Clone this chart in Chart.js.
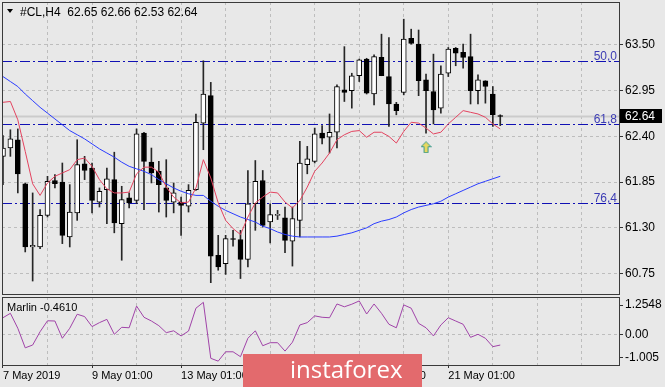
<!DOCTYPE html>
<html>
<head>
<meta charset="utf-8">
<title>#CL,H4</title>
<script src="https://cdn.jsdelivr.net/npm/chart.js@4.4.1/dist/chart.umd.min.js"></script>
<style>
  html, body { margin: 0; padding: 0; background: #e8e8e8; }
  .box { position: relative; width: 665px; height: 387px; overflow: hidden; background: #e8e8e8; }
  canvas { position: absolute; left: 0; }
  #price { top: 0; }
  #osc { top: 296px; }
  .logo { position: absolute; left: 243px; top: 354px; width: 179px; height: 33px; background: #e36a6d;
          color: #fff; font: 24px "Open Sans", sans-serif; line-height: 30px; box-sizing: border-box; padding-left: 47px; }
</style>
</head>
<body>
<div class="box">
  <canvas id="price" width="665" height="296"></canvas>
  <canvas id="osc" width="665" height="91"></canvas>
  <div class="logo">instaforex</div>
</div>
<script>
// candles, H4
var opens = [62.16, 62.26, 62.36, 61.83, 61.07, 61.07, 61.45, 61.87, 61.85, 61.19,
             61.48, 62.07, 62.02, 61.61, 61.76, 61.88, 61.35, 61.66, 61.63, 62.44,
             62.09, 61.98, 61.78, 61.61, 61.61, 61.56, 61.76, 62.56, 62.89, 60.97,
             60.87, 61.17, 61.16, 60.92, 61.59, 61.87, 61.37, 61.45, 61.42, 61.14,
             61.39, 62.06, 62.10, 62.44, 62.39, 62.45, 62.96, 62.95, 63.13, 63.33,
             62.91, 63.35, 63.12, 62.79, 62.93, 63.58, 63.51, 63.08, 62.94, 62.74,
             63.16, 63.46, 63.41, 63.36, 62.95, 63.07, 62.91, 62.65];
var highs = [62.41, 62.48, 62.49, 61.84, 61.72, 61.52, 61.92, 61.94, 62.08, 61.82,
             62.36, 62.16, 62.08, 61.78, 62.02, 62.21, 61.80, 61.72, 62.49, 62.45,
             62.26, 62.10, 62.12, 61.84, 61.67, 61.82, 62.67, 63.31, 63.05, 61.21,
             61.21, 61.27, 61.27, 61.99, 62.11, 61.99, 61.59, 61.51, 61.55, 61.55,
             62.34, 62.28, 62.50, 62.53, 62.67, 63.02, 63.48, 63.16, 63.33, 63.34,
             63.38, 63.63, 63.59, 62.81, 63.81, 63.69, 63.68, 63.15, 63.39, 63.25,
             63.47, 63.47, 63.51, 63.63, 63.14, 63.07, 63.00, 62.66];
var lows = [61.82, 62.16, 61.72, 61.01, 60.66, 61.05, 61.43, 61.78, 61.11, 61.07,
            61.39, 61.88, 61.48, 61.55, 61.35, 61.24, 60.91, 61.54, 61.59, 61.52,
            61.84, 61.49, 61.43, 61.48, 61.21, 61.49, 61.75, 62.24, 60.64, 60.79,
            60.74, 61.08, 60.69, 60.83, 61.27, 61.31, 61.12, 61.40, 61.00, 60.84,
            61.19, 61.95, 62.08, 62.31, 62.20, 62.26, 62.82, 62.74, 63.06, 62.91,
            62.78, 63.13, 62.52, 62.66, 62.90, 63.51, 62.89, 62.44, 62.55, 62.68,
            63.12, 63.25, 63.22, 62.79, 62.79, 62.80, 62.52, 62.53];
var closes = [62.26, 62.37, 61.95, 61.07, 61.09, 61.45, 61.86, 61.83, 61.21, 61.49,
              62.06, 61.99, 61.63, 61.74, 61.89, 61.36, 61.64, 61.60, 62.43, 62.10,
              61.96, 61.82, 61.63, 61.72, 61.57, 61.75, 62.57, 62.91, 60.96, 60.83,
              61.17, 61.16, 60.92, 61.59, 61.86, 61.33, 61.46, 61.45, 61.15, 61.41,
              62.08, 62.13, 62.43, 62.38, 62.45, 63.00, 62.93, 63.13, 63.32, 62.92,
              63.36, 63.13, 62.79, 62.71, 63.57, 63.52, 63.07, 62.95, 62.72, 63.15,
              63.45, 63.40, 63.35, 62.95, 63.08, 63.00, 62.66, 62.64];

// moving averages
var fastMa = [62.81, 62.82, 62.60, 62.22, 61.83, 61.69, 61.84, 61.92, 61.96, 62.00,
              62.12, 62.14, 62.04, 61.88, 61.77, 61.72, 61.72, 61.73, 61.95, 62.03,
              62.03, 61.97, 61.79, 61.67, 61.60, 61.61, 61.78, 62.12, 61.90, 61.60,
              61.39, 61.29, 61.22, 61.43, 61.60, 61.67, 61.73, 61.72, 61.61, 61.54,
              61.63, 61.79, 61.98, 62.08, 62.20, 62.36, 62.42, 62.46, 62.47, 62.39,
              62.45, 62.45, 62.40, 62.32, 62.46, 62.57, 62.56, 62.50, 62.43, 62.45,
              62.55, 62.63, 62.71, 62.69, 62.67, 62.63, 62.55, 62.49];
var slowMa = [63.12, 63.06, 63.00, 62.91, 62.83, 62.75, 62.68, 62.61, 62.54, 62.47,
              62.42, 62.37, 62.31, 62.25, 62.20, 62.15, 62.09, 62.04, 62.01, 61.98,
              61.94, 61.88, 61.83, 61.78, 61.74, 61.71, 61.69, 61.69, 61.62, 61.56,
              61.51, 61.47, 61.43, 61.40, 61.37, 61.32, 61.29, 61.25, 61.22, 61.20,
              61.19, 61.19, 61.19, 61.19, 61.19, 61.20, 61.22, 61.24, 61.27, 61.30,
              61.35, 61.38, 61.40, 61.43, 61.48, 61.52, 61.55, 61.57, 61.59, 61.62,
              61.67, 61.71, 61.75, 61.79, 61.83, 61.86, 61.89, 61.92];

// Marlin oscillator
var marlin = [0.71, 0.90, 0.26, -0.58, -0.46, 0.11, 0.58, 0.57, -0.17, 0.26,
              0.86, 0.76, 0.33, 0.50, 0.64, 0.00, 0.30, 0.28, 1.21, 0.73,
              0.57, 0.37, 0.07, 0.15, -0.07, 0.14, 1.12, 1.37, -1.03, -1.15,
              -0.75, -0.75, -0.96, -0.17, 0.15, -0.49, -0.36, -0.36, -0.72, -0.34,
              0.40, 0.50, 0.79, 0.73, 0.71, 1.30, 1.18, 1.29, 1.43, 0.87,
              1.30, 0.90, 0.43, 0.28, 1.26, 1.12, 0.47, 0.28, -0.07, 0.40,
              0.71, 0.57, 0.43, -0.13, 0.00, -0.17, -0.53, -0.461];

// fibo levels and the signal arrow
var fibLevels = [63.31, 62.55, 61.60];
var fibNames = ['50,0', '61,8', '76,4'];
var arrowBars = [57];
var arrowPrices = [62.27];

// axes
var priceTicks = [63.50, 62.95, 62.40, 61.85, 61.30, 60.75];
var marlinTicks = [1.2548, 0, -1.005];
var marlinTickText = ['1.2548', '0.00', '-1.005'];
var gridBars = [0, 6, 12, 18, 24, 30, 36, 42, 48, 54, 60, 66, 72, 78];
var dateBars = [0, 12, 24, 36, 48, 60];
var dateLabels = ['7 May 2019', '9 May 01:00', '13 May 01:00', '15 May 01:00', '17 May 01:00', '21 May 01:00'];

var gridColor = '#bdbdbd';
var clear = 'rgba(0,0,0,0)';
var last = closes.length - 1;

Chart.defaults.font.family = '"Liberation Sans", Arial, sans-serif';
Chart.defaults.font.size = 12;
Chart.defaults.color = '#000';

// no extra room for half labels: the panels must fill the canvas exactly
function noPad(s) {
    s.paddingTop = 0;
    s.paddingBottom = 0;
    s.paddingLeft = 0;
    s.paddingRight = 0;
}

function barAxis(showLabels) {
    return {
        type: 'linear',
        min: -0.13,
        max: 83,
        offset: false,
        afterBuildTicks: function (s) {
            s.ticks = gridBars.map(function (v) { return { value: v }; });
        },
        afterFit: function (s) {
            s.height = showLabels ? 22 : 2;
            noPad(s);
        },
        border: { display: false, dash: [3, 3] },
        grid: {
            offset: false,
            color: function (c) { return c.tick && c.tick.value === 0 ? clear : gridColor; },
            drawTicks: showLabels,
            tickLength: 3,
            tickColor: function (c) {
                return c.tick && dateBars.indexOf(c.tick.value) >= 0 ? '#333' : clear;
            }
        },
        ticks: {
            display: showLabels,
            autoSkip: false,
            maxRotation: 0,
            align: 'start',
            padding: 1,
            font: { size: 11 },
            callback: function (v) {
                var k = dateBars.indexOf(v);
                return k < 0 ? '' : dateLabels[k];
            }
        }
    };
}

var frame = {
    id: 'frame',
    afterDraw: function (chart) {
        var a = chart.chartArea, ctx = chart.ctx;
        ctx.save();
        ctx.strokeStyle = '#3a3a3a';
        ctx.lineWidth = 1;
        ctx.strokeRect(Math.round(a.left) + 0.5, Math.round(a.top) + 0.5,
                       Math.round(a.right - a.left), Math.round(a.bottom - a.top));
        ctx.restore();
    }
};

// fibo rays and the bid line, behind the candles
var levels = {
    id: 'levels',
    beforeDatasetsDraw: function (chart) {
        var a = chart.chartArea, ctx = chart.ctx, y = chart.scales.y;
        ctx.save();
        var py = Math.round(y.getPixelForValue(closes[last])) + 0.5;
        ctx.strokeStyle = '#cbcbcb';
        ctx.lineWidth = 2;
        ctx.beginPath();
        ctx.moveTo(a.left, py);
        ctx.lineTo(a.right, py);
        ctx.stroke();

        ctx.lineWidth = 1;
        ctx.font = '12px "Liberation Sans", Arial, sans-serif';
        ctx.textAlign = 'right';
        ctx.textBaseline = 'alphabetic';
        fibLevels.forEach(function (v, i) {
            var p = Math.round(y.getPixelForValue(v)) + 0.5;
            ctx.strokeStyle = '#1010b4';
            ctx.setLineDash([10, 3, 2, 3]);
            ctx.beginPath();
            ctx.moveTo(a.left, p);
            ctx.lineTo(a.right, p);
            ctx.stroke();
            ctx.setLineDash([]);
            ctx.fillStyle = '#3c3cb4';
            ctx.fillText(fibNames[i], a.right - 2, p - 2);
        });
        ctx.restore();
    },
    afterDraw: function (chart) {
        var a = chart.chartArea, ctx = chart.ctx, y = chart.scales.y;
        var py = Math.round(y.getPixelForValue(closes[last]));
        ctx.save();
        ctx.fillStyle = '#000';
        ctx.fillRect(a.right + 1, py - 7, 42, 14);
        ctx.fillStyle = '#fff';
        ctx.font = '12px "Liberation Sans", Arial, sans-serif';
        ctx.textBaseline = 'middle';
        ctx.fillText(closes[last].toFixed(2), a.right + 6, py + 1);
        // header
        ctx.fillStyle = '#000';
        ctx.beginPath();
        ctx.moveTo(7, 9);
        ctx.lineTo(13, 9);
        ctx.lineTo(10, 13);
        ctx.closePath();
        ctx.fill();
        ctx.textBaseline = 'alphabetic';
        ctx.fillText('#CL,H4  ' + [opens[last], highs[last], lows[last], closes[last]]
            .map(function (v) { return v.toFixed(2); }).join(' '), 20, 16);
        ctx.restore();
    }
};

var oscTitle = {
    id: 'oscTitle',
    afterDraw: function (chart) {
        var ctx = chart.ctx;
        ctx.save();
        ctx.fillStyle = '#000';
        ctx.font = '11px "Liberation Sans", Arial, sans-serif';
        ctx.fillText('Marlin ' + marlin[last].toFixed(4), 7, 15);
        ctx.restore();
    }
};

function makeArrow() {
    var c = document.createElement('canvas');
    c.width = 11;
    c.height = 12;
    var g = c.getContext('2d');
    g.beginPath();
    g.moveTo(5.5, 0.5);
    g.lineTo(10.5, 5.5);
    g.lineTo(7.5, 5.5);
    g.lineTo(7.5, 11.5);
    g.lineTo(3.5, 11.5);
    g.lineTo(3.5, 5.5);
    g.lineTo(0.5, 5.5);
    g.closePath();
    g.fillStyle = '#e8d860';
    g.fill();
    g.strokeStyle = '#3a9a8a';
    g.lineWidth = 1;
    g.stroke();
    return c;
}

var idx = opens.map(function (_, i) { return i; });

new Chart(document.getElementById('price'), {
    type: 'bar',
    data: {
        datasets: [
            {
                type: 'line',
                data: idx.map(function (i) { return { x: i, y: fastMa[i] }; }),
                borderColor: '#e3435f',
                borderWidth: 1,
                pointRadius: 0,
                order: 1
            },
            {
                type: 'line',
                data: idx.map(function (i) { return { x: i, y: slowMa[i] }; }),
                borderColor: '#2a3cff',
                borderWidth: 1,
                pointRadius: 0,
                order: 1
            },
            {
                type: 'line',
                data: arrowBars.map(function (b, i) { return { x: b, y: arrowPrices[i] }; }),
                showLine: false,
                pointStyle: makeArrow(),
                pointRadius: 6,
                order: 0
            },
            {
                type: 'bar',
                data: idx.map(function (i) { return { x: i, y: [opens[i], closes[i]] }; }),
                backgroundColor: idx.map(function (i) { return closes[i] >= opens[i] ? '#ffffff' : '#000000'; }),
                borderColor: '#000',
                borderWidth: 1,
                borderSkipped: false,
                barThickness: 5,
                minBarLength: 1,
                grouped: false,
                order: 2
            },
            {
                type: 'bar',
                data: idx.map(function (i) { return { x: i, y: [lows[i], highs[i]] }; }),
                backgroundColor: '#262626',
                borderWidth: 0,
                barThickness: 1,
                grouped: false,
                order: 3
            }
        ]
    },
    options: {
        responsive: false,
        devicePixelRatio: 1,
        animation: false,
        events: [],
        layout: { autoPadding: false, padding: { left: 2, top: 2, right: 0, bottom: 0 } },
        plugins: { legend: { display: false }, tooltip: { enabled: false } },
        scales: {
            x: barAxis(false),
            y: {
                position: 'right',
                min: 60.504,
                max: 64.017,
                afterBuildTicks: function (s) {
                    s.ticks = priceTicks.map(function (v) { return { value: v }; });
                },
                afterFit: function (s) { s.width = 46; noPad(s); },
                border: { display: false, dash: [3, 3] },
                grid: { color: gridColor, tickLength: 4, tickColor: '#333' },
                ticks: { padding: 2, callback: function (v) { return v.toFixed(2); } }
            }
        }
    },
    plugins: [levels, frame]
});

new Chart(document.getElementById('osc'), {
    type: 'line',
    data: {
        datasets: [{
            data: idx.map(function (i) { return { x: i, y: marlin[i] }; }),
            borderColor: '#a043a8',
            borderWidth: 1,
            pointRadius: 0
        }]
    },
    options: {
        responsive: false,
        devicePixelRatio: 1,
        animation: false,
        events: [],
        layout: { autoPadding: false, padding: { left: 2, top: 1, right: 0, bottom: 0 } },
        plugins: { legend: { display: false }, tooltip: { enabled: false } },
        scales: {
            x: barAxis(true),
            y: {
                position: 'right',
                min: -1.316,
                max: 1.599,
                afterBuildTicks: function (s) {
                    s.ticks = marlinTicks.map(function (v) { return { value: v }; });
                },
                afterFit: function (s) { s.width = 46; noPad(s); },
                border: { display: false, dash: [3, 3] },
                grid: {
                    color: function (c) { return c.tick && c.tick.value === 0 ? gridColor : clear; },
                    tickLength: 4,
                    tickColor: '#333'
                },
                ticks: { padding: 2, callback: function (v, i) { return marlinTickText[i]; } }
            }
        }
    },
    plugins: [frame, oscTitle]
});
</script>
</body>
</html>
